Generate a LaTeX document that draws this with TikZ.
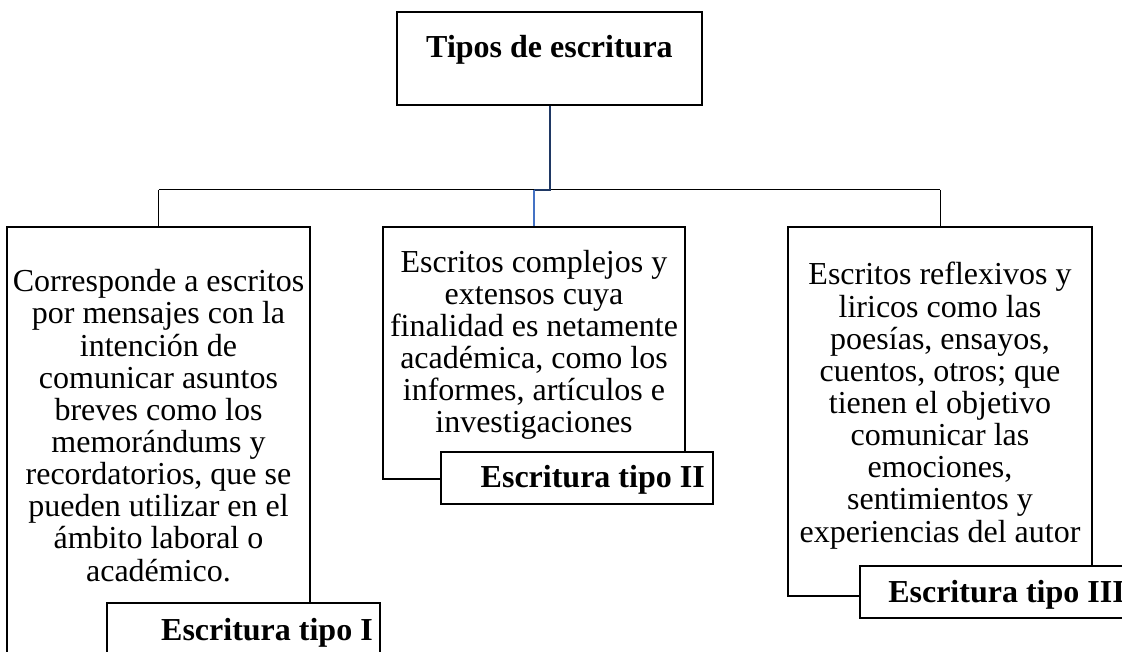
\documentclass[tikz,border=0pt]{standalone}
\usepackage{fontspec}
\setmainfont{Liberation Serif}
\usetikzlibrary{fit}
\definecolor{navyline}{HTML}{1F3864}
\definecolor{blueline}{HTML}{4472C4}
\tikzset{
  box/.style={draw=black, line width=1.5pt, fill=white, inner sep=0pt, rectangle},
  bodytext/.style={font=\fontsize{24pt}{24.1pt}\selectfont, align=center, inner sep=0pt},
  boldtext/.style={font=\fontsize{24pt}{24.1pt}\selectfont\bfseries, inner sep=0pt},
  thinline/.style={draw=black, line width=0.75pt},
  navyconn/.style={draw=navyline, line width=1.5pt},
  blueconn/.style={draw=blueline, line width=1.7pt},
}
\begin{document}
\begin{tikzpicture}[x=0.75pt,y=-0.75pt]
\useasboundingbox[fill=white] (0,0) rectangle (1122,652);
\clip (0,0) rectangle (1122,652);
% top box
\node[box, fit={(397,12) (702,105)}] (top) {};
\node[boldtext, anchor=base] (toptext) at (549.5,58) {Tipos de escritura};
% connectors
\coordinate (bus) at (549.5,190);
\coordinate (jog) at (534,190);
\coordinate (busL) at (158.5,190);
\coordinate (busR) at (940,190);
% body boxes
\node[box, fit={(7,227) (310,662)}] (b1) {};
\node[box, fit={(383,227) (685,479)}] (b2) {};
\node[box, fit={(788,227) (1092,596)}] (b3) {};
\draw[thinline] (busL) -- (busR);
\draw[thinline] (busL) -- (busL |- b1.north);
\draw[thinline] (busR) -- (busR |- b3.north);
\draw[navyconn] (top.south -| bus) -- (bus) -- (jog);
\draw[blueconn] (jog) -- (jog |- b2.north);
% body texts (base anchor = baseline of last line)
\node[bodytext, anchor=base] (t1) at (158.5,581) {Corresponde a escritos\\por mensajes con la\\intención de\\comunicar asuntos\\breves como los\\memorándums y\\recordatorios, que se\\pueden utilizar en el\\ámbito laboral o\\académico.};
\node[bodytext, anchor=base] (t2) at (534,433) {Escritos complejos y\\extensos cuya\\finalidad es netamente\\académica, como los\\informes, artículos e\\investigaciones};
\node[bodytext, anchor=base] (t3) at (940,542) {Escritos reflexivos y\\liricos como las\\poesías, ensayos,\\cuentos, otros; que\\tienen el objetivo\\comunicar las\\emociones,\\sentimientos y\\experiencias del autor};
% label boxes
\node[box, fit={(107,603) (380,662)}] (l1) {};
\node[box, fit={(441,452) (713,504)}] (l2) {};
\node[box, fit={(860,566) (1140,618)}] (l3) {};
\node[boldtext, anchor=base east] (l1t) at (373,640) {Escritura tipo I};
\node[boldtext, anchor=base east] (l2t) at (705,488) {Escritura tipo II};
\node[boldtext, anchor=base west] (l3t) at (888,602) {Escritura tipo III};
\end{tikzpicture}
\end{document}
